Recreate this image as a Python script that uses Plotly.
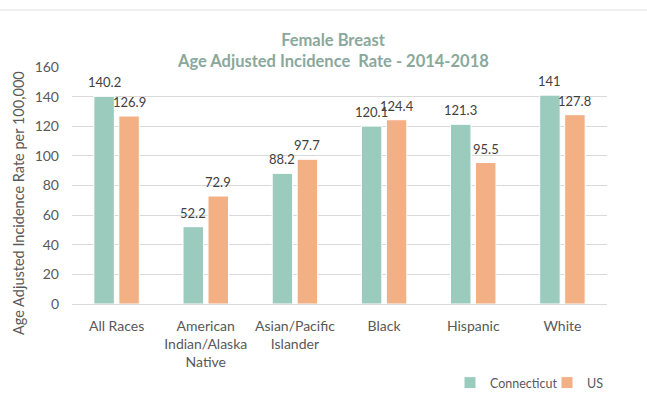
import plotly.graph_objects as go

categories = ["All Races", "American<br>Indian/Alaska<br>Native", "Asian/Pacific<br>Islander",
              "Black", "Hispanic", "White"]
connecticut = [140.2, 52.2, 88.2, 120.1, 121.3, 141]
us = [126.9, 72.9, 97.7, 124.4, 95.5, 127.8]
y_ticks = [0, 20, 40, 60, 80, 100, 120, 140, 160]
title_lines = ["Female Breast", "Age Adjusted Incidence  Rate - 2014-2018"]

FONT = "Lato, 'Open Sans', sans-serif"
label_font = dict(family=FONT, size=13, color="#404040")
title_font = dict(family=FONT, size=16.5, color="#8AA89C", weight="bold")

# plot area in pixels
L, R, T, B = 72, 40, 67, 92
W, H = 647, 396
PW, PH = W - L - R, H - T - B

fig = go.Figure()
fig.add_trace(go.Bar(
    name="Connecticut", x=categories, y=connecticut,
    marker=dict(color="#9BCBBD", line=dict(color="white", width=1)),
))
fig.add_trace(go.Bar(
    name="US", x=categories, y=us,
    marker=dict(color="#F2B084", line=dict(color="white", width=1)),
))

# value labels centred over each bar
slot = PW / len(categories) * (1 - 0.44) / 2
for values, shift in ((connecticut, -slot / 2), (us, slot / 2)):
    for cat, v in zip(categories, values):
        fig.add_annotation(x=cat, y=v, text=str(v), showarrow=False,
                           xshift=shift, yshift=4, yanchor="bottom",
                           font=label_font)

# second title line, set close under the first
fig.add_annotation(text=title_lines[1], xref="paper", yref="paper",
                   x=(333 - L) / PW, y=(H - B - 61) / PH,
                   xanchor="center", yanchor="middle", showarrow=False,
                   font=title_font)

# y-axis title
fig.add_annotation(text="Age Adjusted Incidence Rate per 100,000", textangle=-90,
                   xref="paper", yref="paper", x=(18 - L) / PW, y=(H - B - 203) / PH,
                   xanchor="center", yanchor="middle", showarrow=False,
                   font=dict(family=FONT, size=14.5, color="#595959"))

fig.update_layout(
    width=W, height=H,
    margin=dict(l=L, r=R, t=T, b=B, autoexpand=False),
    paper_bgcolor="white", plot_bgcolor="white",
    barmode="group", bargap=0.44, bargroupgap=0.18,
    font=dict(family=FONT, color="#595959", size=13),
    title=dict(
        text=title_lines[0], font=title_font,
        x=333 / W, xref="container", xanchor="center",
        y=1 - 40 / H, yref="container", yanchor="middle",
    ),
    xaxis=dict(
        showgrid=False, showline=True, linecolor="#D9D9D9", linewidth=1,
        ticks="", tickfont=dict(size=14, color="#595959"), automargin=False,
        ticklabelstandoff=9,
    ),
    yaxis=dict(
        range=[0, 160], tickvals=y_ticks, showgrid=True, gridcolor="#D9D9D9",
        zeroline=False, showline=False, ticks="", ticklen=0,
        tickfont=dict(size=14, color="#595959"), automargin=False,
        ticklabelstandoff=12,
    ),
    legend=dict(
        orientation="h", x=(450 - L) / PW, y=(H - B - 383) / PH,
        xanchor="left", yanchor="middle",
        font=dict(size=12.5, color="#595959"), itemwidth=30,
        entrywidth=52, entrywidthmode="pixels", traceorder="normal",
    ),
)

# thin border along the top of the chart area
fig.add_shape(type="line", xref="paper", yref="paper", x0=-0.2, x1=1.2,
              y0=(H - B - 10) / PH, y1=(H - B - 10) / PH,
              line=dict(color="#E0E0E0", width=1))

fig.write_html("out.html")
